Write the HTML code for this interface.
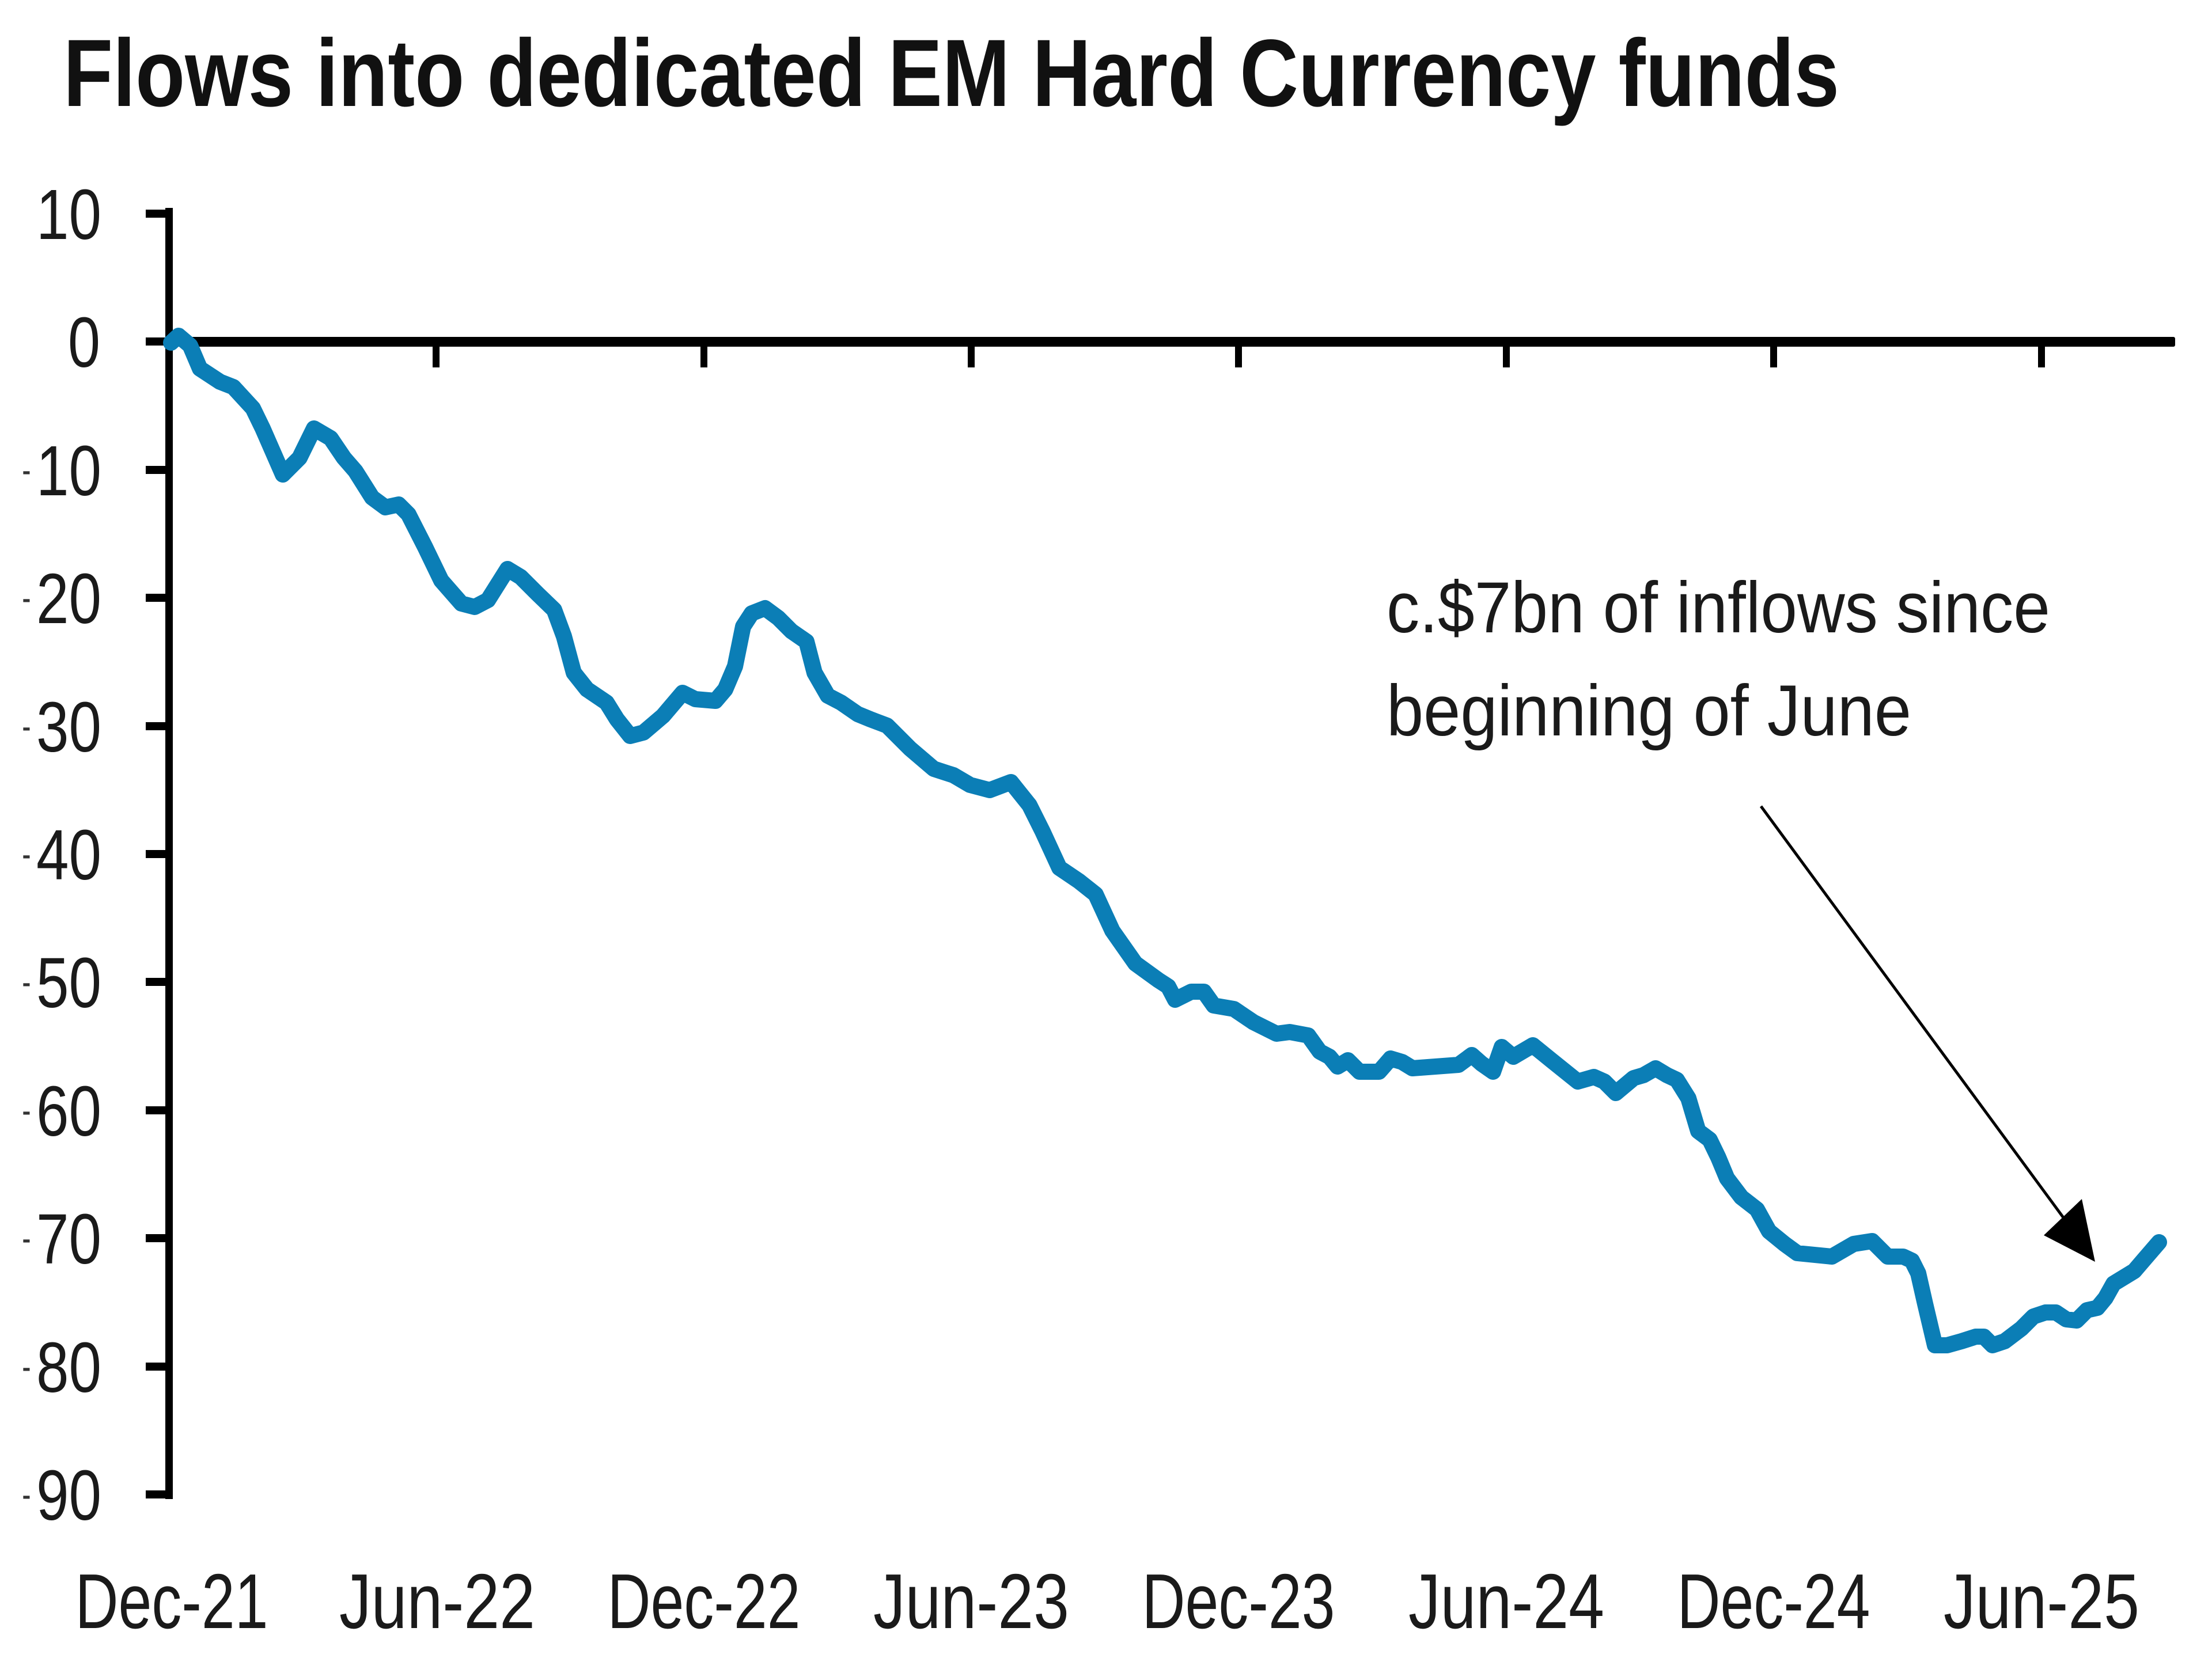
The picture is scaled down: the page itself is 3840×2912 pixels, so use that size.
<!DOCTYPE html>
<html>
<head>
<meta charset="utf-8">
<style>
html,body{margin:0;padding:0;background:#fff;}
svg{display:block;}
text{font-family:"Liberation Sans",Arial,sans-serif;}
</style>
</head>
<body>
<svg width="3840" height="2912" viewBox="0 0 3840 2912" xmlns="http://www.w3.org/2000/svg">
<rect x="0" y="0" width="3840" height="2912" fill="#ffffff"/>

<!-- Title -->
<text x="110" y="184" font-size="166" font-weight="bold" fill="#111" textLength="3083" lengthAdjust="spacingAndGlyphs">Flows into dedicated EM Hard Currency funds</text>

<!-- Y axis -->
<rect x="287" y="361" width="13" height="2242" fill="#000"/>
<g fill="#000">
<rect x="253" y="364" width="45" height="14"/>
<rect x="253" y="586" width="45" height="14"/>
<rect x="253" y="809" width="45" height="14"/>
<rect x="253" y="1031" width="45" height="14"/>
<rect x="253" y="1254" width="45" height="14"/>
<rect x="253" y="1476" width="45" height="14"/>
<rect x="253" y="1698" width="45" height="14"/>
<rect x="253" y="1921" width="45" height="14"/>
<rect x="253" y="2143" width="45" height="14"/>
<rect x="253" y="2366" width="45" height="14"/>
<rect x="253" y="2588" width="45" height="14"/>
</g>

<!-- Y labels -->
<g font-size="123" fill="#1a1a1a" text-anchor="end">
<text x="176" y="415" textLength="113" lengthAdjust="spacingAndGlyphs">10</text>
<text x="174" y="637" textLength="56" lengthAdjust="spacingAndGlyphs">0</text>
<text x="176" y="860" textLength="113" lengthAdjust="spacingAndGlyphs">10</text>
<text x="176" y="1082" textLength="113" lengthAdjust="spacingAndGlyphs">20</text>
<text x="176" y="1305" textLength="113" lengthAdjust="spacingAndGlyphs">30</text>
<text x="176" y="1527" textLength="113" lengthAdjust="spacingAndGlyphs">40</text>
<text x="176" y="1749" textLength="113" lengthAdjust="spacingAndGlyphs">50</text>
<text x="176" y="1972" textLength="113" lengthAdjust="spacingAndGlyphs">60</text>
<text x="176" y="2194" textLength="113" lengthAdjust="spacingAndGlyphs">70</text>
<text x="176" y="2417" textLength="113" lengthAdjust="spacingAndGlyphs">80</text>
<text x="176" y="2639" textLength="113" lengthAdjust="spacingAndGlyphs">90</text>
</g>
<g font-size="44" font-weight="bold" fill="#333" text-anchor="middle">
<text x="46" y="832">-</text>
<text x="46" y="1054">-</text>
<text x="46" y="1277">-</text>
<text x="46" y="1499">-</text>
<text x="46" y="1721">-</text>
<text x="46" y="1944">-</text>
<text x="46" y="2166">-</text>
<text x="46" y="2389">-</text>
<text x="46" y="2611">-</text>
</g>

<!-- X axis (zero line) -->
<rect x="287" y="585" width="3489" height="17" rx="3" fill="#000"/>
<g fill="#000">
<rect x="751" y="595" width="12" height="43"/>
<rect x="1216" y="595" width="12" height="43"/>
<rect x="1680" y="595" width="12" height="43"/>
<rect x="2144" y="595" width="12" height="43"/>
<rect x="2609" y="595" width="12" height="43"/>
<rect x="3073" y="595" width="12" height="43"/>
<rect x="3538" y="595" width="12" height="43"/>
</g>

<!-- X labels -->
<g font-size="135" fill="#1a1a1a" text-anchor="middle">
<text x="298" y="2827" textLength="335" lengthAdjust="spacingAndGlyphs">Dec-21</text>
<text x="759" y="2827" textLength="340" lengthAdjust="spacingAndGlyphs">Jun-22</text>
<text x="1222" y="2827" textLength="335" lengthAdjust="spacingAndGlyphs">Dec-22</text>
<text x="1686" y="2827" textLength="340" lengthAdjust="spacingAndGlyphs">Jun-23</text>
<text x="2150" y="2827" textLength="335" lengthAdjust="spacingAndGlyphs">Dec-23</text>
<text x="2615" y="2827" textLength="340" lengthAdjust="spacingAndGlyphs">Jun-24</text>
<text x="3079" y="2827" textLength="335" lengthAdjust="spacingAndGlyphs">Dec-24</text>
<text x="3544" y="2827" textLength="340" lengthAdjust="spacingAndGlyphs">Jun-25</text>
</g>

<!-- Series -->
<polyline fill="none" stroke="#0b7eb6" stroke-width="28" stroke-linejoin="round" stroke-linecap="round" points="
297,595 310,583 330,600 347,640 382,663 405,672 439,709 456,744 491,824 520,795 545,744 574,761 597,795 617,818 646,864 669,881 692,876 709,893 738,950 766,1008 801,1048 824,1054 847,1042 881,988 904,1002 933,1031 962,1059 979,1105 996,1168 1019,1197 1053,1220 1071,1249 1094,1278 1117,1272 1151,1243 1185,1203
1207,1214 1242,1217 1259,1197 1276,1157 1290,1088 1305,1065 1328,1056 1351,1073 1374,1096 1400,1114 1414,1168 1437,1208 1460,1220 1489,1240 1511,1249 1540,1260 1580,1300 1621,1335 1655,1346 1684,1363 1718,1372 1755,1358 1787,1398 1810,1444 1839,1507 1873,1530 1902,1553 1931,1616 1971,1673 2011,1702 2028,1713 2040,1736 2068,1722 2090,1722
2107,1746 2142,1752 2176,1775 2216,1795 2239,1792 2271,1798 2291,1826 2308,1835 2322,1852 2340,1841 2360,1861 2394,1861 2414,1838 2434,1844 2452,1855 2492,1852 2532,1849 2555,1832 2572,1847 2592,1861 2607,1818 2627,1835 2661,1815 2693,1841 2739,1878 2767,1870 2785,1878 2805,1898 2836,1872 2853,1867 2874,1855 2894,1867 2911,1875 2931,1907 2948,1964 2968,1979 2983,2010
2998,2046 3023,2079 3050,2100 3071,2138 3098,2160 3120,2176 3180,2182 3218,2160 3250,2155 3277,2182 3304,2182 3319,2189 3330,2211 3342,2264 3359,2336 3380,2336 3405,2329 3430,2321 3444,2321 3459,2336 3480,2329 3509,2307 3530,2286 3551,2279 3569,2279 3587,2291 3605,2293 3623,2275 3641,2271 3655,2254 3669,2229 3687,2218 3705,2207 3723,2186 3748,2157"/>

<!-- Annotation -->
<g font-size="125" fill="#1a1a1a">
<text x="2407" y="1098" textLength="1152" lengthAdjust="spacingAndGlyphs">c.$7bn of inflows since</text>
<text x="2407" y="1277" textLength="911" lengthAdjust="spacingAndGlyphs">beginning of June</text>
</g>
<line x1="3057" y1="1400" x2="3595" y2="2132" stroke="#000" stroke-width="5"/>
<polygon points="3637,2191 3548,2145 3614,2082" fill="#000"/>
</svg>
</body>
</html>
